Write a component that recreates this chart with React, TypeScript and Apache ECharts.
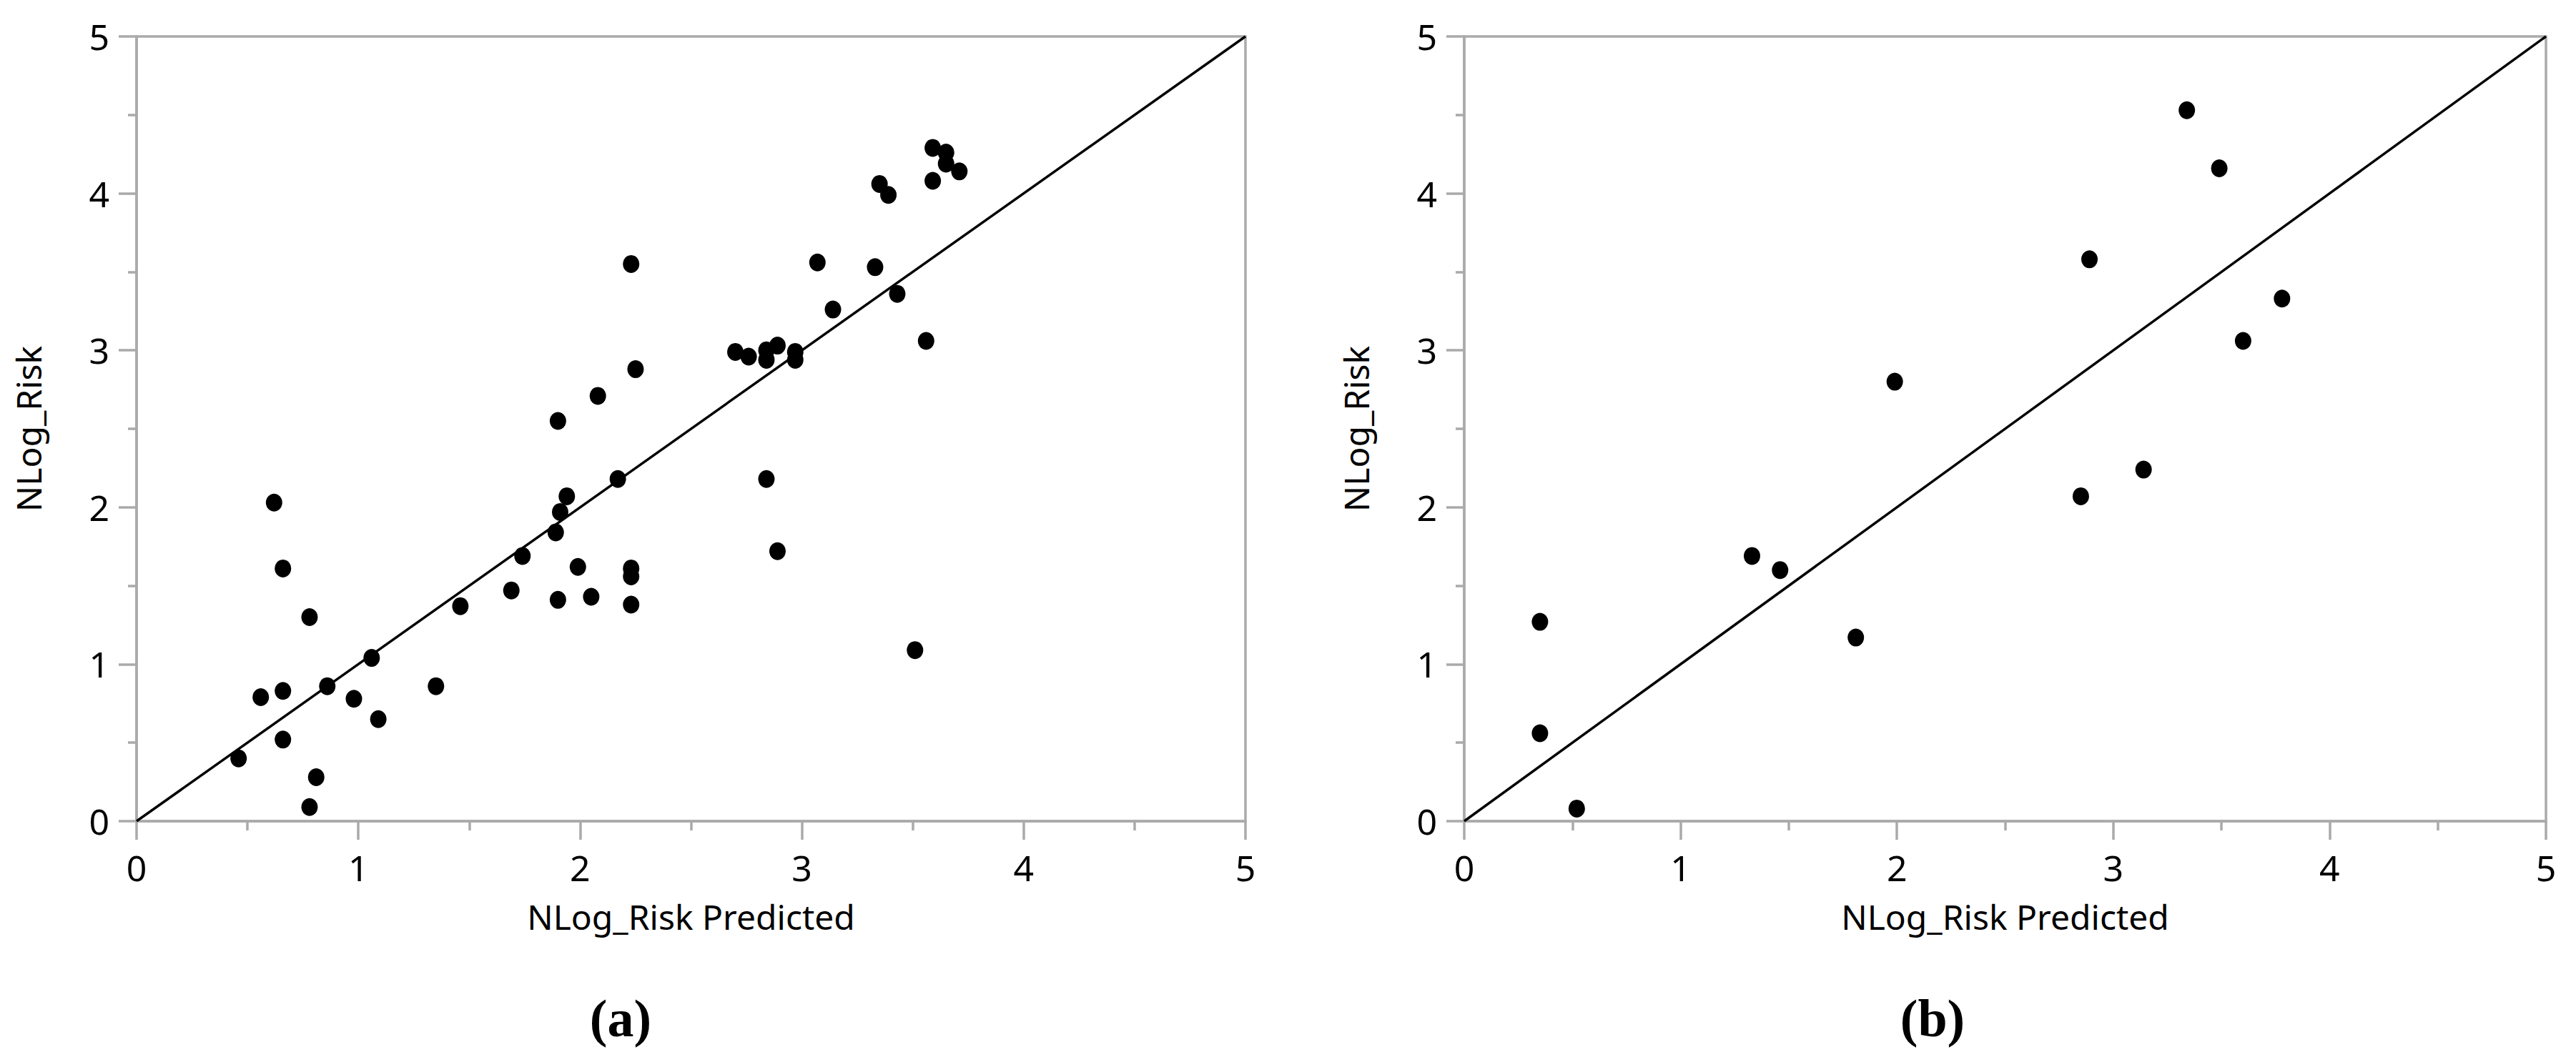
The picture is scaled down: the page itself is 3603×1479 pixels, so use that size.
import React, { useEffect, useRef } from "react";
import * as echarts from "echarts";

// Panel (a) data: predicted vs observed
const predA = [3.59, 3.65, 3.65, 3.71, 3.59, 3.35, 3.39, 2.23, 3.07, 3.33, 3.43, 3.14, 3.56, 2.70, 2.76, 2.84, 2.84, 2.89, 2.97, 2.97, 2.25, 2.08, 1.90, 2.17, 2.84, 1.94, 1.91, 1.89, 2.89, 1.74, 1.99, 2.23, 2.23, 1.69, 2.05, 1.90, 2.23, 1.46, 0.62, 0.66, 0.78, 1.06, 3.51, 0.86, 1.35, 0.56, 0.66, 0.98, 1.09, 0.66, 0.46, 0.81, 0.78];
const obsA = [4.29, 4.26, 4.19, 4.14, 4.08, 4.06, 3.99, 3.55, 3.56, 3.53, 3.36, 3.26, 3.06, 2.99, 2.96, 3.00, 2.94, 3.03, 2.99, 2.94, 2.88, 2.71, 2.55, 2.18, 2.18, 2.07, 1.97, 1.84, 1.72, 1.69, 1.62, 1.61, 1.56, 1.47, 1.43, 1.41, 1.38, 1.37, 2.03, 1.61, 1.30, 1.04, 1.09, 0.86, 0.86, 0.79, 0.83, 0.78, 0.65, 0.52, 0.40, 0.28, 0.09];

// Panel (b) data
const predB = [3.34, 3.49, 2.89, 3.78, 3.60, 1.99, 3.14, 2.85, 1.33, 1.46, 1.81, 0.35, 0.35, 0.52];
const obsB = [4.53, 4.16, 3.58, 3.33, 3.06, 2.80, 2.24, 2.07, 1.69, 1.60, 1.17, 1.27, 0.56, 0.08];

const axisTicks = [0, 1, 2, 3, 4, 5];
const diagonal = [[0, 0], [5, 5]];
const xTitle = "NLog_Risk Predicted";
const yTitle = "NLog_Risk";
const panelLabels = ["(a)", "(b)"];

export default function App() {
  const ref = useRef<HTMLDivElement>(null);
  useEffect(() => {
    document.body.style.margin = "0";
    const chart = echarts.init(ref.current!, undefined, { renderer: "svg" });
    const gray = "#aaaaaa";
    const font = "Noto Sans";
    const mkX = (gi: number) => ({
      type: "value",
      gridIndex: gi,
      min: axisTicks[0],
      max: axisTicks[axisTicks.length - 1],
      interval: 1,
      name: xTitle,
      nameLocation: "middle",
      nameGap: 108,
      nameTextStyle: { fontFamily: font, fontSize: 48, color: "#000", lineHeight: 50 },
      axisLine: { show: true, onZero: false, lineStyle: { color: gray, width: 3.5 } },
      axisTick: { show: true, length: 26, lineStyle: { color: gray, width: 3.5 } },
      minorTick: { show: true, splitNumber: 2, length: 13, lineStyle: { color: gray, width: 3.5 } },
      splitLine: { show: false },
      axisLabel: { fontFamily: font, fontSize: 50, color: "#000", margin: 40, lineHeight: 50 },
    });
    const mkY = (gi: number) => ({
      type: "value",
      gridIndex: gi,
      min: axisTicks[0],
      max: axisTicks[axisTicks.length - 1],
      interval: 1,
      name: yTitle,
      nameLocation: "middle",
      nameGap: 127,
      nameTextStyle: { fontFamily: font, fontSize: 48, color: "#000", lineHeight: 50 },
      axisLine: { show: true, onZero: false, lineStyle: { color: gray, width: 3.5 } },
      axisTick: { show: true, length: 25, lineStyle: { color: gray, width: 3.5 } },
      minorTick: { show: true, splitNumber: 2, length: 12, lineStyle: { color: gray, width: 3.5 } },
      splitLine: { show: false },
      axisLabel: { fontFamily: font, fontSize: 50, color: "#000", margin: 38, lineHeight: 50 },
    });
    const scatterStyle = { color: "#000", opacity: 1 };
    chart.setOption({
      animation: false,
      backgroundColor: "#fff",
      grid: [
        { left: 191, top: 51, width: 1551, height: 1098, show: true, borderColor: gray, borderWidth: 3.5, backgroundColor: "transparent" },
        { left: 2048, top: 51, width: 1513, height: 1098, show: true, borderColor: gray, borderWidth: 3.5, backgroundColor: "transparent" },
      ],
      xAxis: [mkX(0), mkX(1)],
      yAxis: [mkY(0), mkY(1)],
      series: [
        { type: "line", xAxisIndex: 0, yAxisIndex: 0, data: diagonal, symbol: "none", lineStyle: { color: "#000", width: 3.5 }, z: 3 },
        { type: "line", xAxisIndex: 1, yAxisIndex: 1, data: diagonal, symbol: "none", lineStyle: { color: "#000", width: 3.5 }, z: 3 },
        { type: "scatter", xAxisIndex: 0, yAxisIndex: 0, data: predA.map((x, i) => [x, obsA[i]]), symbol: "circle", symbolSize: [23, 25], itemStyle: scatterStyle, z: 4 },
        { type: "scatter", xAxisIndex: 1, yAxisIndex: 1, data: predB.map((x, i) => [x, obsB[i]]), symbol: "circle", symbolSize: [23, 25], itemStyle: scatterStyle, z: 4 },
      ],
      graphic: [
        { type: "text", x: 868, y: 1425, style: { text: panelLabels[0], font: "bold 74px 'Liberation Serif'", fill: "#000", textAlign: "center", textVerticalAlign: "middle" } },
        { type: "text", x: 2703, y: 1425, style: { text: panelLabels[1], font: "bold 74px 'Liberation Serif'", fill: "#000", textAlign: "center", textVerticalAlign: "middle" } },
      ],
    });
    return () => chart.dispose();
  }, []);
  return <div ref={ref} style={{ width: 3603, height: 1479 }} />;
}
